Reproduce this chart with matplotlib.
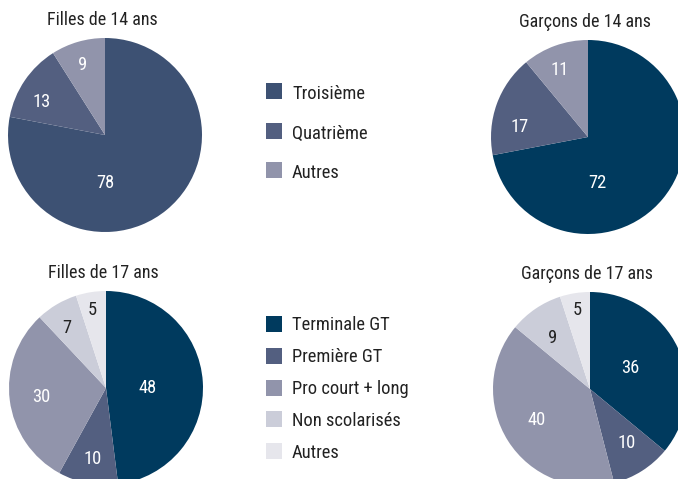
import matplotlib.pyplot as plt
from matplotlib.patches import Rectangle

plt.rcParams['font.family'] = ['Roboto Condensed', 'DejaVu Sans']

# Donnees (en %)
filles14 = [78, 13, 9]
garcons14 = [72, 17, 11]
filles17 = [48, 10, 30, 7, 5]
garcons17 = [36, 10, 40, 9, 5]

titres = ['Filles de 14 ans', 'Garçons de 14 ans', 'Filles de 17 ans', 'Garçons de 17 ans']

leg14 = ['Troisième', 'Quatrième', 'Autres']
leg17 = ['Terminale GT', 'Première GT', 'Pro court + long', 'Non scolarisés', 'Autres']

# couleurs
col_f14 = ['#3d5173', '#535f80', '#9194ab']
col_g14 = ['#003a5e', '#535f80', '#9194ab']
col_17 = ['#003a5e', '#535f80', '#9194ab', '#cbcdd9', '#e6e6ec']
col_leg14 = ['#3d5173', '#535f80', '#9194ab']

# couleur du texte des etiquettes
txt_f14 = ['white', 'white', 'white']
txt_g14 = ['white', 'white', 'white']
txt_f17 = ['white', 'white', 'white', '#222222', '#222222']
txt_g17 = ['white', 'white', 'white', '#222222', '#222222']

# position des etiquettes (en rayons, par rapport au centre)
pos_f14 = [(0.0, -0.49), (-0.65, 0.34), (-0.23, 0.72)]
pos_g14 = [(0.10, -0.47), (-0.70, 0.10), (-0.29, 0.69)]
pos_f17 = [(0.43, 0.0), (-0.14, -0.73), (-0.67, -0.09), (-0.40, 0.62), (-0.14, 0.80)]
pos_g17 = [(0.41, 0.22), (0.38, -0.56), (-0.55, -0.32), (-0.39, 0.53), (-0.13, 0.81)]

W, H = 678, 479
R = 97

fig = plt.figure(figsize=(6.78, 4.79), dpi=100)
ax = fig.add_axes([0, 0, 1, 1])

graphs = [
    (filles14, col_f14, txt_f14, pos_f14, (105, H - 135)),
    (garcons14, col_g14, txt_g14, pos_g14, (588, H - 137)),
    (filles17, col_17, txt_f17, pos_f17, (106, H - 388)),
    (garcons17, col_17, txt_g17, pos_g17, (590, H - 389)),
]

for (vals, cols, tcols, pos, c), titre in zip(graphs, titres):
    ax.pie(vals, colors=cols, startangle=90, counterclock=False,
           center=c, radius=R, wedgeprops={'linewidth': 0}, frame=True)
    for v, tc, (dx, dy) in zip(vals, tcols, pos):
        ax.text(c[0] + dx * R, c[1] + dy * R, str(v), color=tc,
                fontsize=13.3, ha='center', va='center')
    ax.text(c[0] - 3, c[1] + R + 18, titre, fontsize=13, color='#222222',
            ha='center', va='center')

ax.set_xlim(0, W)
ax.set_ylim(0, H)
ax.set_aspect('equal')
ax.axis('off')

# legendes
def legende(noms, cols, y0, pas, dy):
    for i, (n, col) in enumerate(zip(noms, cols)):
        y = H - (y0 + i * pas)
        ax.add_patch(Rectangle((266, y - 8), 16, 16, color=col, lw=0))
        ax.text(292, y - dy, n, fontsize=13.3, color='#222222', va='center', ha='left')

legende(leg14, col_leg14, 91, 39.5, 3)
legende(leg17, col_17, 324, 31.8, 1.5)

plt.savefig('out.png', dpi=100)
